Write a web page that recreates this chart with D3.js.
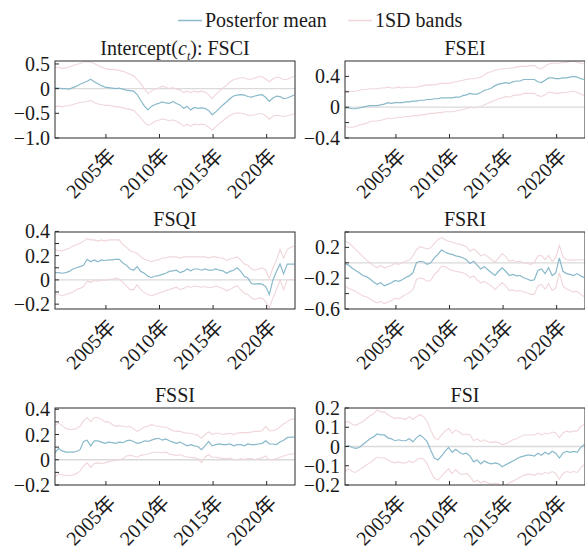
<!DOCTYPE html>
<html>
<head>
<meta charset="utf-8">
<script src="https://cdn.jsdelivr.net/npm/d3@7"></script>
<style>
body { margin: 0; background: #fff; }
text { font-family: "Liberation Serif", "Times New Roman", "Noto Sans CJK SC", serif; fill: #1a1a1a; }
</style>
</head>
<body>
<div id="chart"></div>
<script>
// sample dates (every 4 months)
var dates = [
  "2000-04","2000-08","2000-12","2001-04","2001-08","2001-12","2002-04","2002-08","2002-12",
  "2003-04","2003-08","2003-12","2004-04","2004-08","2004-12","2005-04","2005-08","2005-12",
  "2006-04","2006-08","2006-12","2007-04","2007-08","2007-12","2008-04","2008-08","2008-12",
  "2009-04","2009-08","2009-12","2010-04","2010-08","2010-12","2011-04","2011-08","2011-12",
  "2012-04","2012-08","2012-12","2013-04","2013-08","2013-12","2014-04","2014-08","2014-12",
  "2015-04","2015-08","2015-12","2016-04","2016-08","2016-12","2017-04","2017-08","2017-12",
  "2018-04","2018-08","2018-12","2019-04","2019-08","2019-12","2020-04","2020-08","2020-12",
  "2021-04","2021-08","2021-12","2022-04","2022-08"
];
var tickYears = [2005, 2010, 2015, 2020];

var fsciMean = [0.01,0.01,0.00,0.00,-0.01,0.02,0.05,0.09,0.12,0.15,
  0.19,0.14,0.10,0.06,0.03,0.02,0.01,0.00,0.01,-0.01,
  -0.03,-0.04,-0.05,-0.12,-0.24,-0.35,-0.43,-0.36,-0.32,-0.30,
  -0.27,-0.29,-0.30,-0.26,-0.30,-0.33,-0.40,-0.36,-0.43,-0.38,
  -0.40,-0.39,-0.40,-0.44,-0.53,-0.47,-0.40,-0.33,-0.27,-0.20,
  -0.15,-0.13,-0.12,-0.13,-0.16,-0.17,-0.15,-0.13,-0.12,-0.18,
  -0.26,-0.19,-0.15,-0.16,-0.20,-0.19,-0.16,-0.13];
var fsciUpper = [0.44,0.43,0.41,0.42,0.44,0.47,0.49,0.51,0.54,0.55,
  0.54,0.51,0.47,0.44,0.41,0.39,0.39,0.38,0.37,0.35,
  0.32,0.29,0.26,0.19,0.10,0.00,-0.10,-0.05,-0.01,0.01,
  0.05,0.03,0.00,0.02,-0.01,-0.03,-0.08,-0.05,-0.08,-0.05,
  -0.07,-0.05,-0.07,-0.12,-0.20,-0.12,-0.05,0.01,0.07,0.14,
  0.18,0.20,0.22,0.22,0.19,0.19,0.22,0.24,0.24,0.19,
  0.14,0.20,0.23,0.22,0.18,0.19,0.22,0.25];
var fsciLower = [-0.37,-0.35,-0.37,-0.35,-0.34,-0.32,-0.30,-0.28,-0.27,-0.26,
  -0.24,-0.28,-0.31,-0.32,-0.34,-0.34,-0.35,-0.37,-0.37,-0.39,
  -0.41,-0.42,-0.44,-0.51,-0.59,-0.68,-0.74,-0.71,-0.66,-0.64,
  -0.61,-0.63,-0.65,-0.63,-0.66,-0.70,-0.76,-0.72,-0.76,-0.72,
  -0.73,-0.72,-0.73,-0.78,-0.84,-0.78,-0.71,-0.65,-0.59,-0.54,
  -0.51,-0.49,-0.50,-0.51,-0.54,-0.54,-0.53,-0.51,-0.51,-0.55,
  -0.62,-0.56,-0.54,-0.55,-0.57,-0.55,-0.53,-0.51];

var fseiMean = [-0.01,-0.01,-0.02,-0.02,-0.01,0.00,0.01,0.02,0.02,0.02,
  0.03,0.04,0.06,0.05,0.06,0.06,0.06,0.07,0.07,0.08,
  0.08,0.09,0.09,0.10,0.10,0.11,0.11,0.12,0.12,0.12,
  0.12,0.13,0.13,0.15,0.16,0.18,0.17,0.17,0.19,0.22,
  0.23,0.25,0.28,0.30,0.31,0.32,0.31,0.33,0.34,0.34,
  0.36,0.36,0.36,0.36,0.33,0.32,0.35,0.38,0.38,0.37,
  0.37,0.38,0.38,0.39,0.40,0.39,0.37,0.36];
var fseiUpper = [0.21,0.21,0.20,0.21,0.22,0.23,0.23,0.24,0.24,0.24,
  0.25,0.25,0.26,0.25,0.25,0.26,0.25,0.26,0.26,0.26,
  0.26,0.27,0.28,0.29,0.29,0.29,0.30,0.31,0.31,0.31,
  0.32,0.33,0.34,0.35,0.36,0.37,0.37,0.38,0.39,0.42,
  0.45,0.46,0.48,0.49,0.50,0.50,0.51,0.51,0.52,0.53,
  0.53,0.53,0.54,0.54,0.51,0.50,0.53,0.56,0.57,0.57,
  0.57,0.58,0.58,0.59,0.60,0.58,0.57,0.56];
var fseiLower = [-0.25,-0.26,-0.26,-0.25,-0.23,-0.22,-0.21,-0.19,-0.18,-0.18,
  -0.17,-0.16,-0.14,-0.15,-0.14,-0.13,-0.13,-0.12,-0.12,-0.11,
  -0.11,-0.10,-0.10,-0.09,-0.08,-0.08,-0.07,-0.07,-0.06,-0.06,
  -0.06,-0.05,-0.04,-0.03,-0.02,0.00,-0.01,0.00,0.01,0.03,
  0.05,0.07,0.09,0.11,0.12,0.14,0.13,0.15,0.16,0.16,
  0.18,0.18,0.18,0.18,0.15,0.14,0.16,0.19,0.19,0.18,
  0.18,0.19,0.19,0.20,0.21,0.19,0.17,0.15];

var fsqiMean = [0.06,0.06,0.055,0.06,0.07,0.09,0.10,0.11,0.12,0.17,
  0.15,0.165,0.15,0.165,0.16,0.165,0.165,0.17,0.17,0.14,
  0.12,0.09,0.08,0.11,0.07,0.055,0.03,0.02,0.03,0.035,
  0.045,0.055,0.07,0.075,0.08,0.06,0.07,0.09,0.075,0.09,
  0.09,0.08,0.09,0.08,0.08,0.09,0.08,0.075,0.055,0.07,
  0.08,0.10,0.07,0.03,0.015,-0.03,-0.035,-0.03,-0.035,-0.055,
  -0.12,0.00,0.07,0.13,0.05,0.13,0.13,0.13];
var fsqiUpper = [0.25,0.24,0.24,0.25,0.26,0.28,0.29,0.30,0.32,0.34,
  0.33,0.33,0.32,0.33,0.32,0.33,0.33,0.33,0.33,0.29,
  0.27,0.24,0.23,0.22,0.19,0.17,0.16,0.15,0.16,0.165,
  0.18,0.18,0.19,0.19,0.19,0.18,0.19,0.19,0.19,0.19,
  0.19,0.19,0.19,0.18,0.19,0.19,0.18,0.18,0.16,0.17,
  0.18,0.19,0.165,0.13,0.12,0.09,0.08,0.09,0.10,0.08,
  0.01,0.10,0.165,0.25,0.18,0.25,0.27,0.28];
var fsqiLower = [-0.12,-0.12,-0.13,-0.12,-0.11,-0.10,-0.08,-0.07,-0.055,-0.01,
  -0.02,-0.005,-0.01,0.00,-0.005,0.005,0.005,0.015,0.005,-0.02,
  -0.05,-0.08,-0.08,-0.04,-0.08,-0.105,-0.12,-0.13,-0.12,-0.11,
  -0.10,-0.09,-0.08,-0.07,-0.06,-0.08,-0.07,-0.055,-0.06,-0.05,
  -0.055,-0.06,-0.055,-0.065,-0.06,-0.05,-0.06,-0.07,-0.09,-0.08,
  -0.06,-0.05,-0.08,-0.11,-0.12,-0.15,-0.16,-0.15,-0.15,-0.18,
  -0.23,-0.15,-0.08,0.00,-0.08,0.00,0.005,0.00];

var fsriMean = [-0.01,-0.03,-0.07,-0.10,-0.13,-0.165,-0.18,-0.21,-0.25,-0.28,
  -0.26,-0.30,-0.28,-0.26,-0.23,-0.24,-0.22,-0.19,-0.17,-0.13,
  0.00,0.02,0.01,-0.02,0.00,0.065,0.11,0.165,0.14,0.12,
  0.11,0.09,0.08,0.065,0.04,-0.01,0.02,-0.03,-0.08,-0.05,
  -0.09,-0.13,-0.165,-0.11,-0.065,-0.11,-0.165,-0.15,-0.17,-0.165,
  -0.195,-0.21,-0.23,-0.22,-0.10,-0.08,-0.14,-0.065,-0.165,-0.13,
  0.065,-0.11,-0.14,-0.15,-0.165,-0.14,-0.17,-0.195];
var fsriUpper = [0.28,0.26,0.22,0.17,0.13,0.08,0.035,0.00,-0.04,-0.065,
  -0.035,-0.065,-0.05,-0.035,-0.01,-0.02,0.00,0.02,0.035,0.09,
  0.17,0.21,0.195,0.18,0.195,0.25,0.30,0.33,0.30,0.28,
  0.27,0.25,0.24,0.23,0.21,0.15,0.18,0.14,0.09,0.11,
  0.08,0.04,0.01,0.065,0.12,0.08,0.02,0.035,0.01,0.02,
  0.00,-0.01,-0.02,0.00,0.09,0.095,0.04,0.095,0.02,0.065,
  0.23,0.08,0.04,0.035,0.035,0.04,0.04,0.035];
var fsriLower = [-0.30,-0.33,-0.35,-0.37,-0.40,-0.43,-0.44,-0.47,-0.50,-0.52,
  -0.50,-0.53,-0.51,-0.49,-0.46,-0.47,-0.44,-0.41,-0.39,-0.35,
  -0.22,-0.195,-0.21,-0.24,-0.23,-0.15,-0.11,-0.045,-0.05,-0.08,
  -0.10,-0.11,-0.12,-0.13,-0.15,-0.195,-0.17,-0.22,-0.26,-0.24,
  -0.27,-0.30,-0.35,-0.30,-0.26,-0.30,-0.36,-0.35,-0.37,-0.36,
  -0.38,-0.39,-0.41,-0.41,-0.30,-0.28,-0.34,-0.27,-0.36,-0.33,
  -0.13,-0.30,-0.34,-0.36,-0.38,-0.37,-0.41,-0.44];

var fssiMean = [0.055,0.09,0.07,0.06,0.06,0.06,0.065,0.08,0.145,0.155,
  0.11,0.15,0.15,0.14,0.13,0.14,0.135,0.13,0.14,0.135,
  0.15,0.155,0.145,0.13,0.135,0.15,0.145,0.155,0.165,0.17,
  0.155,0.165,0.15,0.14,0.13,0.14,0.125,0.11,0.12,0.11,
  0.105,0.08,0.11,0.145,0.11,0.12,0.125,0.12,0.12,0.125,
  0.11,0.12,0.12,0.11,0.125,0.12,0.12,0.125,0.13,0.15,
  0.125,0.125,0.12,0.14,0.155,0.175,0.18,0.18];
var fssiUpper = [0.27,0.29,0.27,0.25,0.24,0.24,0.245,0.265,0.31,0.335,
  0.30,0.335,0.335,0.32,0.30,0.30,0.28,0.265,0.27,0.265,
  0.26,0.265,0.245,0.225,0.24,0.26,0.265,0.28,0.27,0.265,
  0.26,0.26,0.245,0.23,0.225,0.225,0.215,0.21,0.21,0.20,
  0.195,0.17,0.20,0.22,0.20,0.21,0.21,0.20,0.205,0.21,
  0.20,0.21,0.215,0.215,0.215,0.22,0.225,0.225,0.23,0.265,
  0.23,0.23,0.24,0.26,0.285,0.30,0.32,0.32];
var fssiLower = [-0.135,-0.11,-0.12,-0.125,-0.125,-0.12,-0.11,-0.09,-0.05,-0.025,
  -0.06,-0.03,-0.025,-0.03,-0.025,-0.015,-0.01,-0.005,0.00,0.01,
  0.03,0.035,0.03,0.02,0.035,0.04,0.045,0.055,0.06,0.06,
  0.055,0.06,0.045,0.04,0.035,0.04,0.03,0.02,0.02,0.015,
  0.01,-0.025,0.02,0.04,0.02,0.02,0.015,0.01,0.01,0.015,
  0.00,0.00,0.01,0.00,0.01,0.01,0.00,0.01,0.015,0.03,
  0.00,0.00,0.01,0.02,0.03,0.04,0.045,0.045];

var fsiMean = [0.00,0.005,-0.005,-0.01,-0.005,0.01,0.025,0.04,0.05,0.065,
  0.06,0.06,0.045,0.04,0.03,0.035,0.03,0.03,0.04,0.025,
  0.045,0.06,0.045,0.025,-0.02,-0.06,-0.07,-0.05,-0.025,-0.005,
  -0.03,-0.015,-0.03,-0.04,-0.035,-0.05,-0.08,-0.07,-0.09,-0.075,
  -0.085,-0.09,-0.085,-0.09,-0.105,-0.095,-0.085,-0.075,-0.065,-0.055,
  -0.05,-0.045,-0.045,-0.05,-0.035,-0.045,-0.03,-0.04,-0.025,-0.035,
  -0.06,-0.035,-0.025,-0.03,-0.025,-0.03,-0.005,0.01];
var fsiUpper = [0.125,0.13,0.115,0.11,0.12,0.13,0.145,0.16,0.17,0.19,
  0.18,0.18,0.165,0.155,0.145,0.15,0.145,0.14,0.155,0.14,
  0.155,0.165,0.155,0.13,0.085,0.045,0.035,0.06,0.08,0.095,
  0.07,0.085,0.075,0.06,0.065,0.06,0.03,0.04,0.025,0.035,
  0.025,0.02,0.025,0.02,0.01,0.015,0.025,0.035,0.04,0.05,
  0.06,0.06,0.06,0.06,0.07,0.06,0.07,0.065,0.075,0.07,
  0.045,0.07,0.08,0.075,0.08,0.08,0.105,0.115];
var fsiLower = [-0.13,-0.115,-0.13,-0.135,-0.12,-0.11,-0.095,-0.085,-0.07,-0.055,
  -0.06,-0.06,-0.07,-0.08,-0.085,-0.08,-0.085,-0.085,-0.075,-0.085,
  -0.07,-0.06,-0.065,-0.09,-0.13,-0.165,-0.175,-0.155,-0.135,-0.115,
  -0.14,-0.12,-0.14,-0.145,-0.14,-0.155,-0.185,-0.175,-0.19,-0.18,
  -0.19,-0.195,-0.19,-0.195,-0.215,-0.20,-0.19,-0.18,-0.17,-0.16,
  -0.15,-0.145,-0.145,-0.15,-0.14,-0.145,-0.135,-0.14,-0.13,-0.14,
  -0.17,-0.14,-0.13,-0.135,-0.13,-0.135,-0.11,-0.095];

var panelNames = ["FSCI", "FSEI", "FSQI", "FSRI", "FSSI", "FSI"];
var yDomains = [[-1.0, 0.56], [-0.4, 0.6], [-0.24, 0.395], [-0.6, 0.4], [-0.2, 0.41], [-0.2, 0.2]];
var yTicks = [[-1.0, -0.5, 0, 0.5], [-0.4, -0.2, 0, 0.2, 0.4], [-0.2, -0.1, 0, 0.1, 0.2, 0.3, 0.4],
  [-0.6, -0.4, -0.2, 0, 0.2, 0.4], [-0.2, -0.1, 0, 0.1, 0.2, 0.3, 0.4], [-0.2, -0.1, 0, 0.1, 0.2]];
var yLabels = [[-1.0, -0.5, 0, 0.5], [-0.4, 0, 0.4], [-0.2, 0, 0.2, 0.4],
  [-0.6, -0.2, 0.2], [-0.2, 0, 0.2, 0.4], [-0.2, -0.1, 0, 0.1, 0.2]];
var means = [fsciMean, fseiMean, fsqiMean, fsriMean, fssiMean, fsiMean];
var uppers = [fsciUpper, fseiUpper, fsqiUpper, fsriUpper, fssiUpper, fsiUpper];
var lowers = [fsciLower, fseiLower, fsqiLower, fsriLower, fssiLower, fsiLower];

var blue = "#89b9ca", pink = "#f0d6d9";

var svg = d3.select("#chart").append("svg")
  .attr("width", 585).attr("height", 547);

var parse = d3.timeParse("%Y-%m");
var t = dates.map(parse);

var pw = 240, ph = 77;
var colX = [55, 345], rowY = [61, 232, 408];

var x = d3.scaleTime()
  .domain([new Date(2000, 3, 1), new Date(2022, 7, 24)])
  .range([0, pw]);

function fmt(v) {
  if (v === 0) return "0";
  return (v < 0 ? "\u2212" : "") + Math.abs(v).toFixed(1);
}

panelNames.forEach(function(name, i) {
  var gx = colX[i % 2], gy = rowY[Math.floor(i / 2)];
  var g = svg.append("g").attr("transform", "translate(" + gx + "," + gy + ")");
  var y = d3.scaleLinear().domain(yDomains[i]).range([ph, 0]);

  g.append("clipPath").attr("id", "clip" + i)
    .append("rect").attr("width", pw).attr("height", ph);

  var plot = g.append("g").attr("clip-path", "url(#clip" + i + ")");

  plot.append("line")
    .attr("x1", 0).attr("x2", pw)
    .attr("y1", y(0)).attr("y2", y(0))
    .attr("stroke", "#dadada").attr("stroke-width", 1.3);

  var line = d3.line()
    .x(function(d, k) { return x(t[k]); })
    .y(function(d) { return y(d); });

  [uppers[i], lowers[i]].forEach(function(s) {
    plot.append("path").datum(s)
      .attr("d", line)
      .attr("fill", "none")
      .attr("stroke", pink)
      .attr("stroke-width", 1.1);
  });

  plot.append("path").datum(means[i])
    .attr("d", line)
    .attr("fill", "none")
    .attr("stroke", blue)
    .attr("stroke-width", 1.2);

  // frame
  g.append("rect")
    .attr("width", pw).attr("height", ph)
    .attr("fill", "none").attr("stroke", "#2a2a2a").attr("stroke-width", 1);

  // y ticks (inward)
  g.selectAll(".ytick").data(yTicks[i]).enter().append("line")
    .attr("x1", 0).attr("x2", 4)
    .attr("y1", function(d) { return y(d); })
    .attr("y2", function(d) { return y(d); })
    .attr("stroke", "#2a2a2a");

  g.selectAll(".ylab").data(yLabels[i]).enter().append("text")
    .attr("x", -5)
    .attr("y", function(d) { return y(d); })
    .attr("dy", "0.35em")
    .attr("text-anchor", "end")
    .style("font-size", "20px")
    .text(fmt);

  // x ticks (inward)
  var xt = tickYears.map(function(yr) { return new Date(yr, 0, 1); });
  g.selectAll(".xtick").data(xt).enter().append("line")
    .attr("x1", function(d) { return x(d); })
    .attr("x2", function(d) { return x(d); })
    .attr("y1", ph).attr("y2", ph - 4)
    .attr("stroke", "#2a2a2a");

  g.selectAll(".xlab").data(xt).enter().append("text")
    .attr("transform", function(d) {
      return "translate(" + (x(d) + 11) + "," + (ph + 19) + ") rotate(-45)";
    })
    .attr("text-anchor", "end")
    .style("font-size", "20px")
    .text(function(d) { return d.getFullYear() + "年"; });

  // title
  var title = g.append("text")
    .attr("x", pw / 2).attr("y", -6)
    .attr("text-anchor", "middle")
    .style("font-size", "20px");
  if (i === 0) {
    title.append("tspan").text("Intercept(");
    title.append("tspan").style("font-style", "italic").text("c");
    title.append("tspan").attr("dy", 5).style("font-size", "12px").style("font-style", "italic").text("t");
    title.append("tspan").attr("dy", -5).text("): " + name);
  } else {
    title.text(name);
  }
});

// legend
var legend = svg.append("g");
var legendItems = [["Posterfor mean", blue, 178], ["1SD bands", pink, 348]];
legendItems.forEach(function(it) {
  legend.append("line")
    .attr("x1", it[2]).attr("x2", it[2] + 24)
    .attr("y1", 20.5).attr("y2", 20.5)
    .attr("stroke", it[1]).attr("stroke-width", 1.5);
  legend.append("text")
    .attr("x", it[2] + 27).attr("y", 27)
    .style("font-size", "20px")
    .text(it[0]);
});
</script>
</body>
</html>
